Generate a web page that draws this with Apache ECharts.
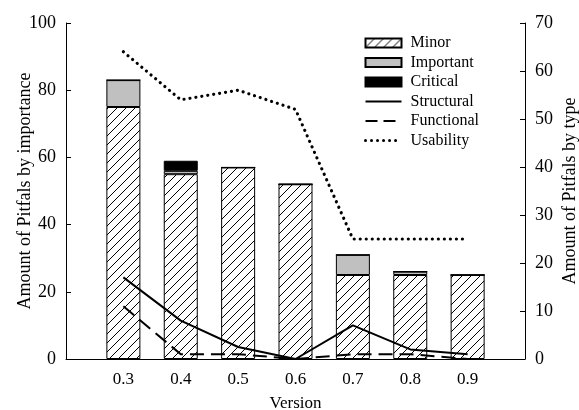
<!DOCTYPE html>
<html>
<head>
<meta charset="utf-8">
<script src="https://cdn.jsdelivr.net/npm/echarts@6/dist/echarts.min.js"></script>
<style>
  html, body { margin: 0; padding: 0; background: #fff; }
  #chart { width: 579px; height: 410px; }
</style>
</head>
<body>
<div id="chart"></div>
<script>
// empty slots at both ends leave room left of 0.3 and right of 0.9
const versions = ['', '0.3', '0.4', '0.5', '0.6', '0.7', '0.8', '0.9', '']
// by importance (left axis)
const minor = ['-', 75, 55, 57, 52, 25, 25, 25, '-']
const important = ['-', 8, 1, 0, 0, 6, 1, 0, '-']
const critical = ['-', 0, 3, 0, 0, 0, 0, 0, '-']
// by type (right axis)
const structural = ['-', 17, 8, 2.5, 0, 7, 2, 1, '-']
const functional = ['-', 11, 1, 1, 0, 1, 1, 0, '-']
const usability = ['-', 64, 54, 56, 52, 25, 25, 25, '-']

const font = "'Liberation Serif', 'Times New Roman', serif"

function hatch() {
  const s = 9
  const c = document.createElement('canvas')
  c.width = s
  c.height = s
  const ctx = c.getContext('2d')
  ctx.fillStyle = '#fff'
  ctx.fillRect(0, 0, s, s)
  ctx.strokeStyle = '#000'
  ctx.lineWidth = 1
  ctx.beginPath()
  ctx.moveTo(0, s)
  ctx.lineTo(s, 0)
  ctx.moveTo(-1, 1)
  ctx.lineTo(1, -1)
  ctx.moveTo(s - 1, s + 1)
  ctx.lineTo(s + 1, s - 1)
  ctx.stroke()
  return c
}

const chart = echarts.init(document.getElementById('chart'))

const axisColor = '#000'
const barBase = {
  type: 'bar',
  stack: 'imp',
  barWidth: 34,
  yAxisIndex: 0,
  animation: false
}
const lineBase = {
  type: 'line',
  yAxisIndex: 1,
  symbol: 'none',
  animation: false
}
const noSymbol = { opacity: 0 }

chart.setOption({
  backgroundColor: '#fff',
  textStyle: { fontFamily: font },
  grid: { left: 66, right: 54, top: 23, bottom: 51, containLabel: false, outerBoundsMode: 'none' },
  legend: {
    orient: 'vertical',
    left: 364,
    top: 35,
    padding: 0,
    itemWidth: 36,
    itemHeight: 9,
    itemGap: 3.5,
    textStyle: { fontFamily: font, fontSize: 16, color: '#000', padding: [0, 0, 0, 4] },
    data: [
      { name: 'Minor', icon: 'rect' },
      { name: 'Important', icon: 'rect' },
      { name: 'Critical', icon: 'rect' },
      { name: 'Structural', itemStyle: noSymbol, lineStyle: { width: 2 } },
      { name: 'Functional', itemStyle: noSymbol, lineStyle: { width: 2, type: [12, 6] } },
      { name: 'Usability', itemStyle: noSymbol, lineStyle: { width: 3, type: [0.01, 6], cap: 'round' } }
    ]
  },
  xAxis: {
    type: 'category',
    data: versions,
    boundaryGap: false,
    name: 'Version',
    nameLocation: 'middle',
    nameGap: 36,
    nameMoveOverlap: false,
    nameTextStyle: { fontFamily: font, fontSize: 17, color: '#000' },
    axisLine: { show: true, lineStyle: { color: axisColor, width: 1 } },
    axisTick: { show: false },
    splitLine: { show: false },
    axisLabel: { interval: 0, margin: 12, fontFamily: font, fontSize: 17, color: '#000' }
  },
  yAxis: [{
    type: 'value',
    min: 0,
    max: 100,
    interval: 20,
    name: 'Amount of Pitfals by importance',
    nameLocation: 'middle',
    nameGap: 32,
    nameMoveOverlap: false,
    nameTextStyle: { fontFamily: font, fontSize: 18, color: '#000' },
    axisLine: { show: true, lineStyle: { color: axisColor } },
    axisTick: { show: true, inside: true, length: 5, lineStyle: { color: axisColor } },
    splitLine: { show: false },
    axisLabel: { margin: 10, fontFamily: font, fontSize: 18, color: '#000' }
  }, {
    type: 'value',
    min: 0,
    max: 70,
    interval: 10,
    position: 'right',
    name: 'Amount of Pitfals by type',
    nameLocation: 'middle',
    nameGap: 36,
    nameMoveOverlap: false,
    nameTextStyle: { fontFamily: font, fontSize: 18, color: '#000' },
    axisLine: { show: true, lineStyle: { color: axisColor } },
    axisTick: { show: true, inside: true, length: 5, lineStyle: { color: axisColor } },
    splitLine: { show: false },
    axisLabel: { margin: 10, fontFamily: font, fontSize: 18, color: '#000' }
  }],
  series: [
    Object.assign({}, barBase, {
      name: 'Minor',
      itemStyle: { color: { image: hatch(), repeat: 'repeat' }, borderColor: '#000', borderWidth: 1 },
      data: minor
    }),
    Object.assign({}, barBase, {
      name: 'Important',
      itemStyle: { color: '#c0c0c0', borderColor: '#000', borderWidth: 1 },
      data: important
    }),
    Object.assign({}, barBase, {
      name: 'Critical',
      itemStyle: { color: '#000', borderColor: '#000', borderWidth: 1 },
      data: critical
    }),
    Object.assign({}, lineBase, {
      name: 'Structural',
      itemStyle: { color: '#000' },
      lineStyle: { color: '#000', width: 2 },
      data: structural
    }),
    Object.assign({}, lineBase, {
      name: 'Functional',
      itemStyle: { color: '#000' },
      lineStyle: { color: '#000', width: 2, type: [14, 7] },
      data: functional
    }),
    Object.assign({}, lineBase, {
      name: 'Usability',
      itemStyle: { color: '#000' },
      lineStyle: { color: '#000', width: 3.2, type: [0.01, 6], cap: 'round' },
      data: usability
    })
  ]
})
</script>
</body>
</html>
